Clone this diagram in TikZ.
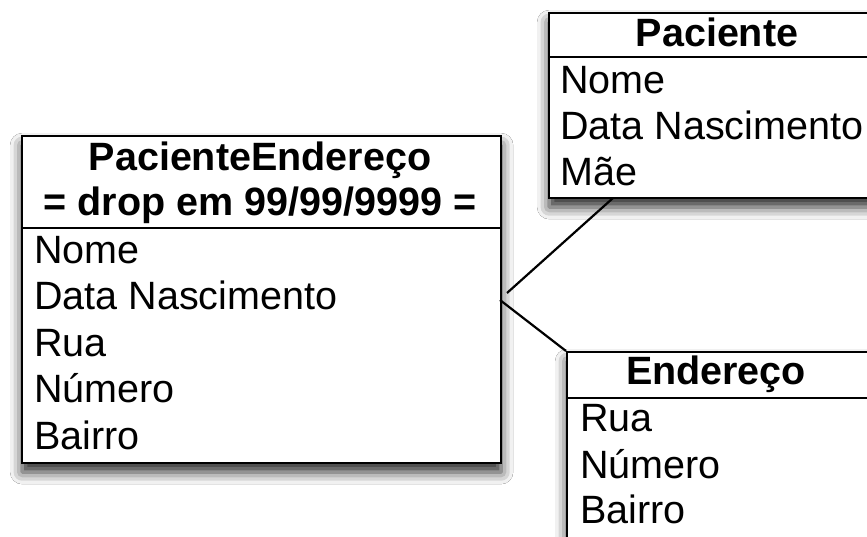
\documentclass[tikz,border=0pt]{standalone}
\usepackage{fontspec}
\setmainfont{Liberation Sans}
\usetikzlibrary{shadows.blur}
\begin{document}
\begin{tikzpicture}[x=1pt,y=-1pt,
  entity/.style={draw=black, line width=2.3pt, fill=white, anchor=north west, inner sep=0pt,
     blur shadow={shadow xshift=0pt, shadow yshift=-9pt, shadow blur radius=12pt, shadow opacity=85}},
  divider/.style={line width=2.3pt},
  conn/.style={line width=2.2pt},
  title/.style={anchor=base, inner sep=0pt, font=\fontsize{39.5}{47}\selectfont\bfseries},
  attr/.style={anchor=base west, inner sep=0pt, font=\fontsize{39.5}{47}\selectfont}]
\useasboundingbox (0,0) rectangle (867,536);
\clip (0,0) rectangle (867,536);
\fill[white] (0,0) rectangle (867,536);

% PacienteEndereco
\node[entity, minimum width=479pt, minimum height=327pt] (pe) at (21,135) {};
\draw[divider] (21,228) -- (500,228);
\node[title] (pet1) at (260,170) {PacienteEndereço};
\node[title] (pet2) at (260,215) {= drop em 99/99/9999 =};
\node[attr] (pea1) at (34,263) {Nome};
\node[attr] (pea2) at (34,309.5) {Data Nascimento};
\node[attr] (pea3) at (34,356) {Rua};
\node[attr] (pea4) at (34,402.5) {Número};
\node[attr] (pea5) at (34,449) {Bairro};

% Paciente
\node[entity, minimum width=345pt, minimum height=185pt] (pac) at (548,12) {};
\draw[divider] (548,57) -- (900,57);
\node[title] (pact) at (717,46) {Paciente};
\node[attr] (paca1) at (560,93) {Nome};
\node[attr] (paca2) at (560,139) {Data Nascimento};
\node[attr] (paca3) at (560,185) {Mãe};

% Endereco
\node[entity, minimum width=320pt, minimum height=260pt] (end) at (566,351) {};
\draw[divider] (566,398) -- (900,398);
\node[title] (endt) at (716,384) {Endereço};
\node[attr] (enda1) at (580,431.5) {Rua};
\node[attr] (enda2) at (580,478) {Número};
\node[attr] (enda3) at (580,523.5) {Bairro};

% connectors
\coordinate (c1) at (507,293);
\coordinate (c2) at (613,198);
\coordinate (c3) at (500,300);
\draw[conn] (c1) -- (c2);
\draw[conn] (c3) -- (end.north west);
\end{tikzpicture}
\end{document}
